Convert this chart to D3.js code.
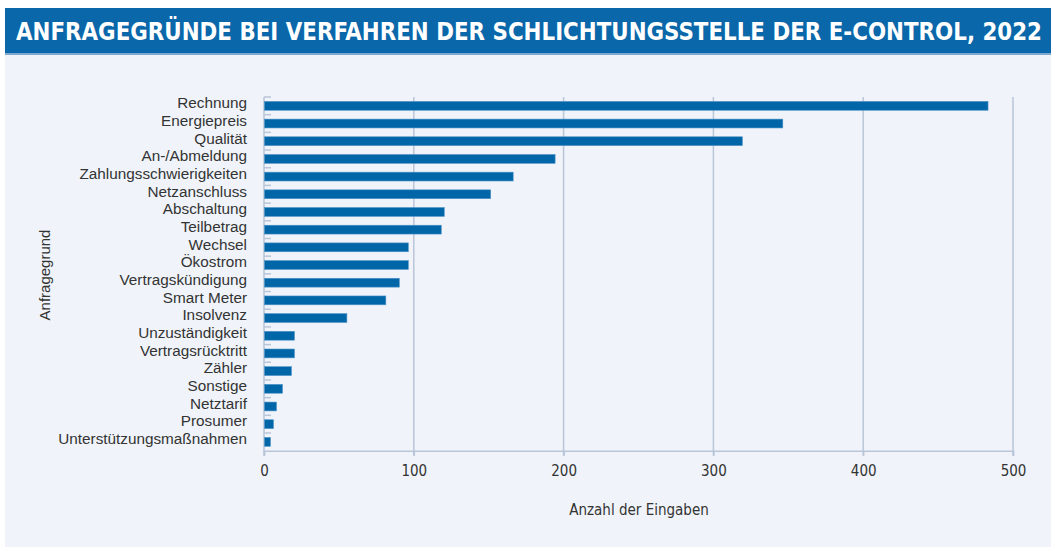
<!DOCTYPE html>
<html>
<head>
<meta charset="utf-8">
<script src="https://cdn.jsdelivr.net/npm/d3@7"></script>
<style>
body { margin: 0; background: #fff; }
svg { display: block; }
</style>
</head>
<body>
<svg id="chart" width="1051" height="548"></svg>
<script>
// categories (top to bottom) and their counts
var categories = ["Rechnung", "Energiepreis", "Qualität", "An-/Abmeldung", "Zahlungsschwierigkeiten",
  "Netzanschluss", "Abschaltung", "Teilbetrag", "Wechsel", "Ökostrom", "Vertragskündigung",
  "Smart Meter", "Insolvenz", "Unzuständigkeit", "Vertragsrücktritt", "Zähler", "Sonstige",
  "Netztarif", "Prosumer", "Unterstützungsmaßnahmen"];
var counts = [483, 346, 319, 194, 166, 151, 120, 118, 96, 96, 90, 81, 55, 20, 20, 18, 12, 8, 6, 4];
var xTicks = [0, 100, 200, 300, 400, 500];

var titleText = "ANFRAGEGRÜNDE BEI VERFAHREN DER SCHLICHTUNGSSTELLE DER E-CONTROL, 2022";

var svg = d3.select("#chart");
var margin = {top: 97, right: 38, bottom: 97, left: 264};
var width = 1051 - margin.left - margin.right;
var height = 548 - margin.top - margin.bottom - 0.3;

var condensed = "'DejaVu Sans Condensed', 'Liberation Sans Narrow', sans-serif";

// background panel + title band
svg.append("rect").attr("x", 5).attr("y", 55).attr("width", 1046).attr("height", 492).attr("fill", "#f0f4fa");
svg.append("rect").attr("x", 5).attr("y", 8).attr("width", 1046).attr("height", 45).attr("fill", "#0a67aa");
svg.append("rect").attr("x", 5).attr("y", 53).attr("width", 1046).attr("height", 2).attr("fill", "#7fa8d0");
svg.append("text")
  .attr("transform", "translate(16,39.5) scale(1,1.12)")
  .attr("fill", "#fff")
  .attr("font-family", condensed)
  .attr("font-weight", "bold")
  .attr("font-size", 22.5)
  .attr("textLength", 1026)
  .attr("lengthAdjust", "spacingAndGlyphs")
  .text(titleText);

var g = svg.append("g").attr("transform", "translate(" + margin.left + "," + margin.top + ")");

var x = d3.scaleLinear().domain([0, 500]).range([0, width]);
var y = d3.scaleBand().domain(categories).range([0, height]).paddingInner(0.5).paddingOuter(0.25);

// vertical gridlines
g.append("g")
  .selectAll("line")
  .data(xTicks.slice(1))
  .enter().append("line")
  .attr("x1", function(d) { return x(d); })
  .attr("x2", function(d) { return x(d); })
  .attr("y1", 0).attr("y2", height + 5)
  .attr("stroke", "#b9c5d8").attr("stroke-width", 1.5);

// x axis
var xAxis = g.append("g")
  .attr("transform", "translate(0," + height + ")")
  .call(d3.axisBottom(x).tickValues(xTicks).tickSize(5).tickPadding(10));
xAxis.select(".domain").attr("stroke", "#b9c5d8").attr("stroke-width", 1.5);
xAxis.selectAll(".tick line").attr("stroke", "#b9c5d8").attr("stroke-width", 1.5);
xAxis.selectAll(".tick text")
  .attr("fill", "#333")
  .attr("font-family", condensed)
  .attr("font-size", 15);

// y axis: line + short ticks on band boundaries
g.append("line").attr("x1", 0).attr("x2", 0).attr("y1", 0).attr("y2", height + 5)
  .attr("stroke", "#b9c5d8").attr("stroke-width", 1.5);
g.append("g")
  .selectAll("line")
  .data(categories)
  .enter().append("line")
  .attr("x1", 0).attr("x2", 7)
  .attr("y1", function(d) { return y(d) - y.step() * 0.25; })
  .attr("y2", function(d) { return y(d) - y.step() * 0.25; })
  .attr("stroke", "#b9c5d8").attr("stroke-width", 1.5);

// bars
g.append("g")
  .selectAll("rect")
  .data(counts)
  .enter().append("rect")
  .attr("x", 0.5)
  .attr("y", function(d, i) { return y(categories[i]); })
  .attr("width", function(d) { return x(d); })
  .attr("height", y.bandwidth())
  .attr("fill", "#0066a8")
  .attr("stroke", "#4f93c7")
  .attr("stroke-width", 0.6);

// category labels
g.append("g")
  .selectAll("text")
  .data(categories)
  .enter().append("text")
  .attr("x", -17)
  .attr("y", function(d) { return y(d) + y.bandwidth() / 2; })
  .attr("dy", "0.15em")
  .attr("text-anchor", "end")
  .attr("fill", "#333")
  .attr("font-family", "'Liberation Sans', Arial, sans-serif")
  .attr("font-size", 15.3)
  .text(function(d) { return d; });

// axis titles
svg.append("text")
  .attr("x", 639).attr("y", 515)
  .attr("text-anchor", "middle")
  .attr("fill", "#333")
  .attr("font-family", condensed)
  .attr("font-size", 15)
  .text("Anzahl der Eingaben");

svg.append("text")
  .attr("transform", "translate(50,275) rotate(-90)")
  .attr("text-anchor", "middle")
  .attr("fill", "#333")
  .attr("font-family", "'Liberation Sans', Arial, sans-serif")
  .attr("font-size", 15)
  .text("Anfragegrund");
</script>
</body>
</html>
